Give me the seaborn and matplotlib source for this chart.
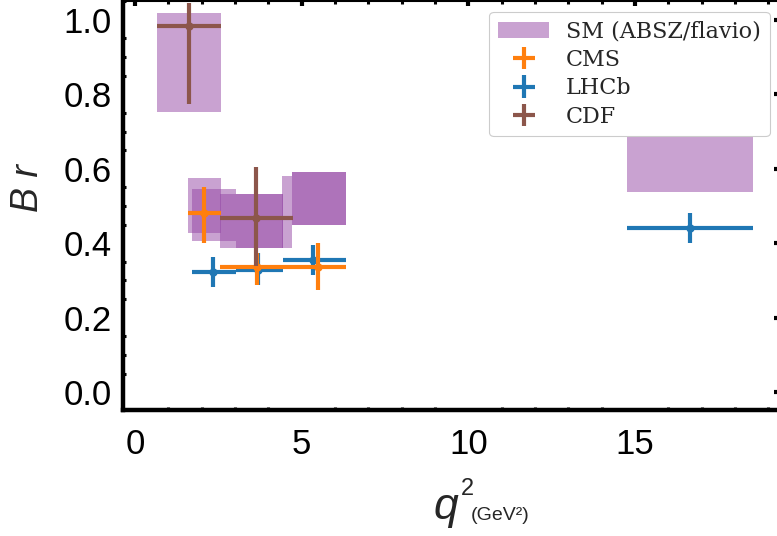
import numpy as np
import pandas as pd
import matplotlib
matplotlib.use("Agg")
import matplotlib.pyplot as plt
import seaborn as sns
from matplotlib.ticker import MultipleLocator

# ---------------- data ----------------
# SM prediction boxes (q2 bin edges, Br band)
sm_x0 = [0.66, 1.59, 1.71, 2.55, 3.03, 4.41, 4.71, 4.71, 14.77]
sm_x1 = [2.58, 2.58, 3.03, 4.44, 4.44, 4.71, 6.33, 6.33, 18.55]
sm_lo = [0.753, 0.427, 0.406, 0.387, 0.387, 0.387, 0.449, 0.449, 0.538]
sm_hi = [1.019, 0.575, 0.546, 0.532, 0.532, 0.580, 0.591, 0.591, 0.700]

# CMS
cms_x = [2.07, 3.66, 5.49]
cms_xlo = [1.59, 2.55, 4.44]
cms_xhi = [2.58, 4.44, 6.33]
cms_y = [0.481, 0.336, 0.336]
cms_ylo = [0.400, 0.288, 0.274]
cms_yhi = [0.551, 0.374, 0.400]

# LHCb
lhcb_x = [2.34, 3.69, 5.34, 16.65]
lhcb_xlo = [1.71, 3.03, 4.44, 14.77]
lhcb_xhi = [3.03, 4.44, 6.33, 18.55]
lhcb_y = [0.323, 0.328, 0.355, 0.441]
lhcb_ylo = [0.282, 0.288, 0.315, 0.400]
lhcb_yhi = [0.363, 0.374, 0.395, 0.481]

# CDF
cdf_x = [1.62, 3.63]
cdf_xlo = [0.66, 2.55]
cdf_xhi = [2.58, 4.74]
cdf_y = [0.984, 0.468]
cdf_ylo = [0.774, 0.340]
cdf_yhi = [1.046, 0.605]

x_ticks = [0, 5, 10, 15]
y_ticks = [0.0, 0.2, 0.4, 0.6, 0.8, 1.0]
y_ticklabels = ["0.0", "0.2", "0.4", "0.6", "0.8", "1.0"]

# ---------------- style ----------------
sns.set_theme(style="white")
plt.rcParams["font.family"] = ["Liberation Sans", "DejaVu Sans"]

fig = plt.figure(figsize=(7.77, 5.36), dpi=100)
W, H = 777, 536
left, right, bottom, top = 123, 779, 410, 0.5
ax = fig.add_axes([left / W, (H - bottom) / H, (right - left) / W, (bottom - top) / H])

SM_COLOR = (148 / 255, 70 / 255, 165 / 255)
SM_ALPHA = 0.5

sm = pd.DataFrame({"x0": sm_x0, "x1": sm_x1, "lo": sm_lo, "hi": sm_hi})
ax.bar(sm["x0"], sm["hi"] - sm["lo"], width=sm["x1"] - sm["x0"], bottom=sm["lo"],
       align="edge", color=SM_COLOR, alpha=SM_ALPHA, linewidth=0, zorder=1,
       label="SM (ABSZ/flavio)")


def draw(xs, xlo, xhi, ys, ylo, yhi, color, label, z):
    xs = np.array(xs); ys = np.array(ys)
    xerr = [xs - np.array(xlo), np.array(xhi) - xs]
    yerr = [ys - np.array(ylo), np.array(yhi) - ys]
    ax.errorbar(xs, ys, xerr=xerr, yerr=yerr, fmt="none", ecolor=color,
                elinewidth=3.0, capsize=0, zorder=z, label=label)
    df = pd.DataFrame({"x": xs, "y": ys})
    sns.scatterplot(data=df, x="x", y="y", color=color, s=36, linewidth=0,
                    zorder=z + 0.5, ax=ax, legend=False)


draw(lhcb_x, lhcb_xlo, lhcb_xhi, lhcb_y, lhcb_ylo, lhcb_yhi, "#1f77b4", "LHCb", 3)
draw(cms_x, cms_xlo, cms_xhi, cms_y, cms_ylo, cms_yhi, "#ff7f0e", "CMS", 4)
draw(cdf_x, cdf_xlo, cdf_xhi, cdf_y, cdf_ylo, cdf_yhi, "#8c564b", "CDF", 5)

ax.set_xlim(-0.36, 19.32)
ax.set_ylim(-0.048, 1.052)
ax.set_xticks(x_ticks)
ax.set_xticklabels([str(t) for t in x_ticks])
ax.set_yticks(y_ticks)
ax.set_yticklabels(y_ticklabels)
ax.xaxis.set_minor_locator(MultipleLocator(1))
ax.yaxis.set_minor_locator(MultipleLocator(0.05))
ax.set_xlabel("")
ax.set_ylabel("")

for s in ["left", "bottom"]:
    ax.spines[s].set_linewidth(3.2)
    ax.spines[s].set_color("black")
for s in ["top", "right"]:
    ax.spines[s].set_linewidth(1.5)
    ax.spines[s].set_color("black")

ax.tick_params(which="major", direction="in", length=3.5, width=3, color="black",
               labelsize=25, labelcolor="black", top=True, right=True)
ax.tick_params(which="minor", direction="in", length=2.2, width=2.2, color="black",
               top=True, right=False, left=True, bottom=True)
ax.tick_params(axis="y", which="major", pad=8)
ax.tick_params(axis="x", which="major", pad=13)

# legend
handles, labels = ax.get_legend_handles_labels()
order = ["SM (ABSZ/flavio)", "CMS", "LHCb", "CDF"]
hl = dict(zip(labels, handles))
leg = ax.legend([hl[k] for k in order], order, loc="upper right",
                bbox_to_anchor=(0.986, 0.972), borderaxespad=0,
                prop={"family": "DejaVu Serif", "size": 16},
                frameon=True, fancybox=True, framealpha=1, edgecolor="#cccccc",
                handlelength=2.3, handletextpad=0.75, labelspacing=0.28,
                borderpad=0.4)
leg.get_frame().set_linewidth(0.8)

# axis labels
fig.text(28 / W, 1 - 188 / H, "B r", rotation=90, fontsize=27, fontstyle="italic",
         ha="center", va="center")
fig.text(446 / W, 1 - 508 / H, "q", fontsize=32, fontstyle="italic",
         ha="center", va="center")
fig.text(467 / W, 1 - 489 / H, "2", fontsize=17, ha="center", va="center")
fig.text(471 / W, 1 - 516 / H, "(GeV²)", fontsize=14, ha="left", va="center")

fig.savefig("out.png", dpi=100, facecolor="white")
